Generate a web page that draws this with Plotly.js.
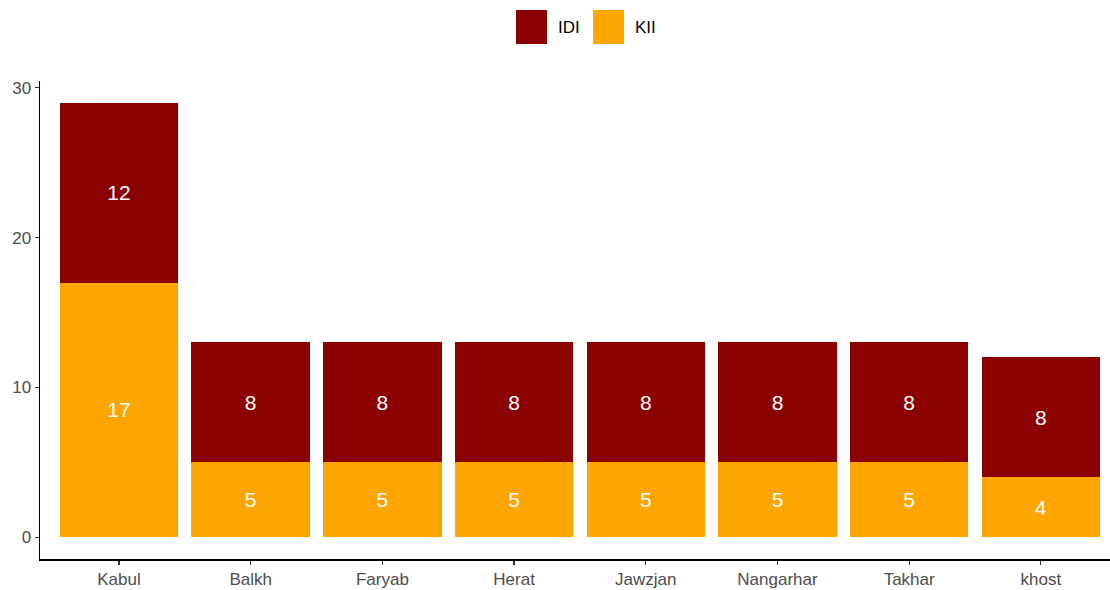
<!DOCTYPE html>
<html>
<head>
<meta charset="utf-8">
<script src="https://cdn.plot.ly/plotly-3.0.1.min.js"></script>
<style>html,body{margin:0;padding:0;background:#fff;}#chart{width:1110px;height:590px;}</style>
</head>
<body>
<div id="chart"></div>
<script>
const provinces = ["Kabul", "Balkh", "Faryab", "Herat", "Jawzjan", "Nangarhar", "Takhar", "khost"];
const kiiValues = [17, 5, 5, 5, 5, 5, 5, 4];
const idiValues = [12, 8, 8, 8, 8, 8, 8, 8];
const seriesNames = ["IDI", "KII"];
const seriesColors = {IDI: "#8B0000", KII: "#FFA500"};
const yTicks = [0, 10, 20, 30];

const font = "Liberation Sans, Arial, sans-serif";

const traces = [
  {
    type: "bar", name: "KII", x: provinces, y: kiiValues,
    marker: {color: seriesColors.KII},
    text: kiiValues.map(String), textposition: "inside", insidetextanchor: "middle",
    constraintext: "none",
    textfont: {color: "#ffffff", size: 21, family: font},
    width: 0.9, showlegend: false, hoverinfo: "skip"
  },
  {
    type: "bar", name: "IDI", x: provinces, y: idiValues,
    marker: {color: seriesColors.IDI},
    text: idiValues.map(String), textposition: "inside", insidetextanchor: "middle",
    constraintext: "none",
    textfont: {color: "#ffffff", size: 21, family: font},
    width: 0.9, showlegend: false, hoverinfo: "skip"
  }
];

// custom ggplot-like legend at top
const shapes = [];
const annotations = [];
const plotH = 590 - 31.3 - 81;
const legendX = [{x0: 516, label: "IDI"}, {x0: 593, label: "KII"}];
legendX.forEach((it) => {
  shapes.push({type: "rect", xref: "paper", yref: "paper",
    x0: (it.x0 - 40) / 1070, x1: (it.x0 + 31 - 40) / 1070,
    y0: (590 - 31.3 - 44) / plotH, y1: (590 - 31.3 - 10) / plotH,
    fillcolor: seriesColors[it.label], line: {width: 0}});
  annotations.push({xref: "paper", yref: "paper",
    x: (it.x0 + 40 - 40) / 1070, y: (590 - 31.3 - 28) / plotH,
    xanchor: "left", yanchor: "middle", text: it.label, showarrow: false,
    font: {family: font, size: 17, color: "#000000"}});
});

const layout = {
  width: 1110, height: 590,
  margin: {l: 40, r: 0, t: 81, b: 31.3, pad: 0},
  paper_bgcolor: "#ffffff", plot_bgcolor: "#ffffff",
  barmode: "stack",
  showlegend: false,
  font: {family: font},
  xaxis: {
    range: [-0.6, 7.525], showgrid: false, zeroline: false,
    showline: true, linecolor: "#000000", linewidth: 1.5,
    ticks: "outside", ticklen: 4, tickwidth: 1.2, tickcolor: "#333333",
    tickfont: {family: font, size: 17, color: "#4D4D4D"},
    fixedrange: true
  },
  yaxis: {
    range: [-1.45, 30.45], showgrid: false, zeroline: false,
    showline: true, linecolor: "#000000", linewidth: 1.5,
    tickvals: yTicks, ticktext: yTicks.map(String),
    ticks: "outside", ticklen: 4, tickwidth: 1.2, tickcolor: "#333333",
    tickfont: {family: font, size: 17, color: "#4D4D4D"},
    fixedrange: true
  },
  shapes: shapes,
  annotations: annotations
};

Plotly.newPlot("chart", traces, layout, {displayModeBar: false, staticPlot: true});
</script>
</body>
</html>
